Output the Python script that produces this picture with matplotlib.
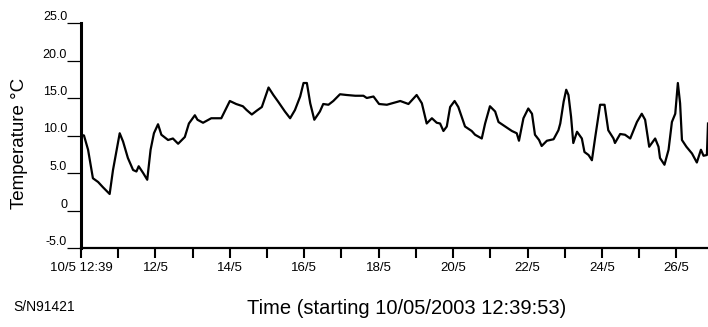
import matplotlib
matplotlib.use("Agg")
import matplotlib.pyplot as plt

plt.rcParams['font.family'] = ['Liberation Sans', 'DejaVu Sans']

# days since 10/05/2003 12:39:53 and logged temperature (deg C)
days = [0.00, 0.08, 0.19, 0.32, 0.46, 0.59, 0.77, 0.86, 1.04, 1.13,
        1.26, 1.40, 1.49, 1.55, 1.67, 1.78, 1.87, 1.96, 2.07, 2.16,
        2.34, 2.47, 2.61, 2.79, 2.90, 3.06, 3.13, 3.28, 3.50, 3.77,
        3.86, 4.00, 4.17, 4.35, 4.45, 4.59, 4.72, 4.86, 5.04, 5.17,
        5.30, 5.48, 5.62, 5.75, 5.89, 5.98, 6.07, 6.16, 6.27, 6.42,
        6.51, 6.65, 6.78, 6.96, 7.14, 7.37, 7.59, 7.68, 7.86, 8.01,
        8.22, 8.44, 8.58, 8.80, 9.02, 9.16, 9.29, 9.43, 9.56, 9.65,
        9.74, 9.83, 9.92, 10.04, 10.14, 10.32, 10.50, 10.59, 10.77, 10.86,
        10.99, 11.13, 11.22, 11.40, 11.58, 11.71, 11.77, 11.89, 12.02, 12.12,
        12.20, 12.31, 12.38, 12.52, 12.70, 12.83, 12.88, 12.97, 13.04, 13.10,
        13.17, 13.23, 13.33, 13.46, 13.53, 13.64, 13.73, 13.82, 13.95, 14.07,
        14.17, 14.31, 14.35, 14.49, 14.62, 14.76, 14.94, 15.07, 15.16, 15.27,
        15.43, 15.52, 15.56, 15.68, 15.79, 15.88, 15.97, 16.04, 16.10, 16.15,
        16.27, 16.42, 16.55, 16.66, 16.73, 16.82, 16.85]
temps = [10.1, 10.0, 8.1, 4.3, 3.8, 3.1, 2.2, 5.4, 10.3, 9.2,
         7.0, 5.4, 5.2, 5.9, 5.0, 4.1, 8.1, 10.3, 11.5, 10.1,
         9.4, 9.6, 8.9, 9.8, 11.6, 12.7, 12.1, 11.7, 12.3, 12.3,
         13.2, 14.6, 14.2, 13.9, 13.4, 12.8, 13.3, 13.8, 16.4, 15.4,
         14.5, 13.2, 12.3, 13.4, 15.2, 17.0, 17.0, 14.3, 12.1, 13.2,
         14.2, 14.1, 14.6, 15.5, 15.4, 15.3, 15.3, 15.0, 15.2, 14.2,
         14.1, 14.4, 14.6, 14.2, 15.4, 14.3, 11.6, 12.3, 11.7, 11.6,
         10.6, 11.2, 13.8, 14.6, 13.8, 11.2, 10.6, 10.1, 9.6, 11.6,
         13.9, 13.2, 11.8, 11.2, 10.6, 10.3, 9.3, 12.3, 13.6, 12.9,
         10.1, 9.4, 8.6, 9.3, 9.5, 10.7, 11.6, 14.5, 16.1, 15.4,
         12.5, 9.0, 10.5, 9.6, 7.8, 7.4, 6.7, 9.8, 14.1, 14.1,
         10.7, 9.6, 9.0, 10.2, 10.1, 9.6, 11.8, 12.9, 12.1, 8.5,
         9.6, 8.5, 7.0, 6.1, 8.1, 11.8, 12.9, 17.0, 14.3, 9.4,
         8.5, 7.6, 6.4, 8.1, 7.3, 7.4, 11.6]

y_ticks = [-5, 0, 5, 10, 15, 20, 25]
y_labels = ['-5.0', '0', '5.0', '10.0', '15.0', '20.0', '25.0']
x_ticks = list(range(17))
x_labels = ['10/5 12:39', '', '12/5', '', '14/5', '', '16/5', '', '18/5',
            '', '20/5', '', '22/5', '', '24/5', '', '26/5']

fig = plt.figure(figsize=(7.08, 3.27), dpi=100)
ax = fig.add_axes([81 / 708, 1 - 248 / 327, 627 / 708, 225 / 327])

ax.plot(days, temps, color='black', lw=1.6)

ax.set_xlim(0, 16.85)
ax.set_ylim(-5, 25)
ax.set_yticks(y_ticks)
ax.set_yticklabels(y_labels, fontsize=9, va='bottom')
ax.set_xticks(x_ticks)
ax.set_xticklabels(x_labels, fontsize=9.5)

for side in ['top', 'right']:
    ax.spines[side].set_visible(False)
ax.spines['left'].set_linewidth(2.2)
ax.spines['bottom'].set_linewidth(1.6)
ax.tick_params(axis='y', length=10, width=0.9, pad=0)
ax.tick_params(axis='x', length=7, width=1.5, pad=3)

fig.text(20 / 708, 1 - 143 / 327, 'Temperature °C', rotation=90,
         fontsize=13.5, ha='center', va='center')
fig.text(407 / 708, 1 - 314 / 327, 'Time (starting 10/05/2003 12:39:53)',
         fontsize=14.5, ha='center', va='baseline')
fig.text(13 / 708, 1 - 311 / 327, 'S/N91421', fontsize=10,
         ha='left', va='baseline')

fig.savefig('out.png', dpi=100)
